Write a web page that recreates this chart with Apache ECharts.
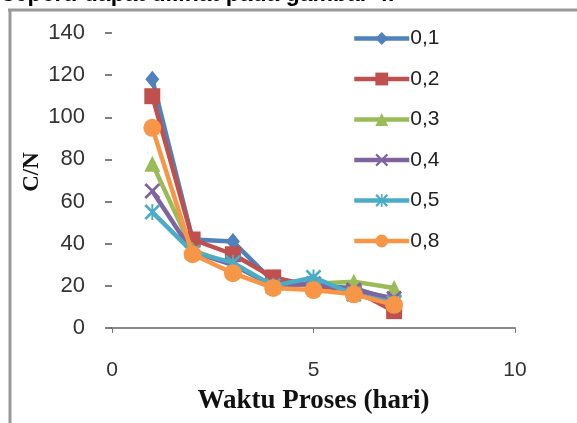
<!DOCTYPE html>
<html>
<head>
<meta charset="utf-8">
<script src="https://cdn.jsdelivr.net/npm/echarts@6/dist/echarts.min.js"></script>
<style>
html,body{margin:0;padding:0;background:#fff;}
#c{width:577px;height:423px;}
</style>
</head>
<body>
<div id="c"></div>
<script>
var days = [1, 2, 3, 4, 5, 6, 7];
var seriesNames = ['0,1', '0,2', '0,3', '0,4', '0,5', '0,8'];
var s01 = [118, 42, 41, 22, 20, 19, 13];
var s02 = [110, 42, 35, 24, 20, 18, 8];
var s03 = [78, 37, 30, 20, 21, 22, 19];
var s04 = [65, 36, 30, 20, 21, 18, 14];
var s05 = [55, 36, 31, 20, 24, 16, 12];
var s08 = [95, 35, 26, 19, 18, 16, 11];
var yTicks = [0, 20, 40, 60, 80, 100, 120, 140];
var xTicks = [0, 5, 10];
var yTitle = 'C/N';
var xTitle = 'Waktu Proses (hari)';

var allValues = [s01, s02, s03, s04, s05, s08];
var colors = ['#4F81BD', '#C0504D', '#9BBB59', '#8064A2', '#4BACC6', '#F79646'];
var xPath = 'path://M0,1.2L1.2,0L5,3.8L8.8,0L10,1.2L6.2,5L10,8.8L8.8,10L5,6.2L1.2,10L0,8.8L3.8,5Z';
var starPath = 'path://M0,1.2L1.2,0L5,3.8L8.8,0L10,1.2L6.2,5L10,8.8L8.8,10L5,6.2L1.2,10L0,8.8L3.8,5Z M4.4,0L5.6,0L5.6,10L4.4,10Z';
var symbols = ['diamond', 'rect', 'triangle', xPath, starPath, 'circle'];
var sizes = [[14, 17], 16, 16, 16, 16, 18];

function pairs(vals) {
  return days.map(function (d, i) { return [d, vals[i]]; });
}

var series = seriesNames.map(function (n, k) {
  return {
    name: n,
    type: 'line',
    data: pairs(allValues[k]),
    symbol: symbols[k],
    symbolSize: sizes[k],
    showAllSymbol: true,
    lineStyle: { color: colors[k], width: 4.5 },
    itemStyle: { color: colors[k] },
    emphasis: { disabled: true },
    z: 2 + k
  };
});

var chart = echarts.init(document.getElementById('c'));
chart.setOption({
  animation: false,
  backgroundColor: '#fff',
  grid: { left: 112, right: 62, top: 33, bottom: 95, containLabel: false },
  legend: {
    orient: 'vertical',
    left: 347,
    top: 23,
    itemWidth: 55,
    itemHeight: 16,
    itemGap: 19.5,
    data: seriesNames,
    lineStyle: { width: 4.5 },
    textStyle: { fontFamily: 'Liberation Sans', fontSize: 21, color: '#222', padding: [0, 0, 0, -4] }
  },
  xAxis: {
    type: 'value',
    min: 0, max: 10, interval: 5,
    name: xTitle,
    nameLocation: 'middle',
    nameGap: 60,
    nameTextStyle: { fontFamily: 'Liberation Serif', fontWeight: 'bold', fontSize: 27, color: '#111' },
    axisLine: { show: true, lineStyle: { color: '#8a8a8a', width: 2 } },
    axisTick: { show: true, length: 5, lineStyle: { color: '#777' } },
    axisLabel: {
      margin: 32, fontFamily: 'Liberation Sans', fontSize: 21, color: '#333',
      formatter: function (v) { return xTicks.indexOf(v) >= 0 ? String(v) : ''; }
    },
    splitLine: { show: false }
  },
  yAxis: {
    type: 'value',
    min: 0, max: 140, interval: 20,
    axisLine: { show: false },
    axisTick: { show: true, length: 7, lineStyle: { color: '#555', width: 1.5 } },
    axisLabel: {
      margin: 27, fontFamily: 'Liberation Sans', fontSize: 22, color: '#333',
      formatter: function (v) { return yTicks.indexOf(v) >= 0 ? String(v) : ''; }
    },
    splitLine: { show: false }
  },
  graphic: [
    { type: 'text', left: 2, top: -17, style: { text: 'seperti dapat dilihat pada gambar 4.', font: 'bold 23px "Liberation Sans"', fill: '#000' } },
    { type: 'line', shape: { x1: 8, y1: 10, x2: 577, y2: 10 }, style: { stroke: '#999', lineWidth: 3 } },
    { type: 'line', shape: { x1: 10, y1: 9, x2: 10, y2: 423 }, style: { stroke: '#999', lineWidth: 3 } },
    { type: 'text', x: 32, y: 172, rotation: Math.PI / 2,
      style: { text: yTitle, font: 'bold 23px "Liberation Serif"', fill: '#111', align: 'center', verticalAlign: 'middle' } }
  ],
  series: series
});
</script>
</body>
</html>
